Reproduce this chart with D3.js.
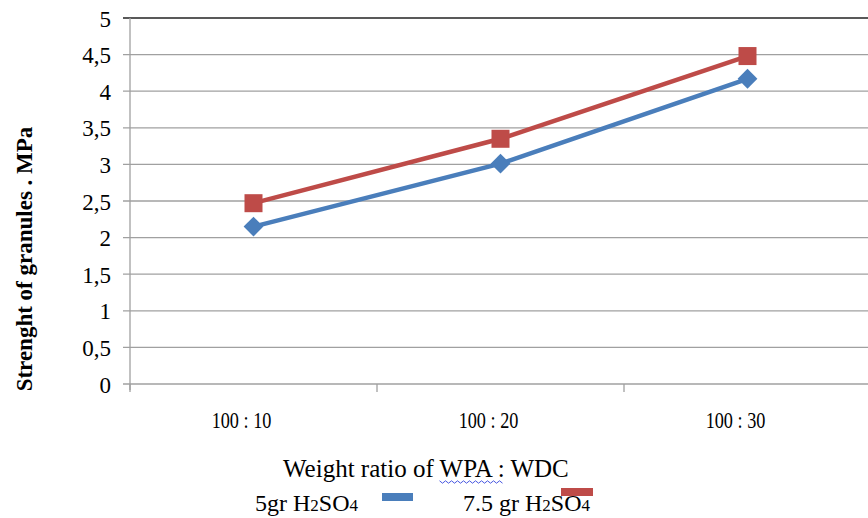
<!DOCTYPE html>
<html>
<head>
<meta charset="utf-8">
<script src="https://cdn.jsdelivr.net/npm/d3@7"></script>
<style>
  body { margin: 0; background: #fff; }
</style>
</head>
<body>
<svg id="chart" width="868" height="518"></svg>
<script>
// chart data
const categories = ["100 : 10", "100 : 20", "100 : 30"];
const series5gr = [2.15, 3.01, 4.17];
const series75gr = [2.47, 3.35, 4.48];
const yTicks = [0, 0.5, 1, 1.5, 2, 2.5, 3, 3.5, 4, 4.5, 5];

const serif = "'Liberation Serif', 'Times New Roman', serif";
const svg = d3.select("#chart").attr("font-family", serif);
const plotLeft = 130, plotRight = 871, plotTop = 18, plotBottom = 384;

const x = d3.scaleBand().domain(categories).range([plotLeft, plotRight]);
const y = d3.scaleLinear().domain([0, 5]).range([plotBottom, plotTop]);
const fmt = v => String(v).replace(".", ",");
const cx = c => x(c) + x.bandwidth() / 2;

// gridlines
svg.append("g").selectAll("line").data(yTicks).enter()
    .append("line")
    .attr("x1", plotLeft - 7).attr("x2", 868)
    .attr("y1", d => y(d)).attr("y2", d => y(d))
    .attr("stroke", d => d === 5 ? "#222" : "#a0a0a0")
    .attr("stroke-width", d => d === 5 ? 1.5 : 1.3);

// y axis line
svg.append("line")
    .attr("x1", plotLeft).attr("x2", plotLeft)
    .attr("y1", plotTop).attr("y2", plotBottom + 6)
    .attr("stroke", "#a0a0a0").attr("stroke-width", 1.3);

// x axis ticks between categories
const bounds = [plotLeft, plotLeft + x.bandwidth(), plotLeft + 2 * x.bandwidth()];
svg.append("g").selectAll("line").data(bounds).enter()
    .append("line")
    .attr("x1", d => d).attr("x2", d => d)
    .attr("y1", plotBottom).attr("y2", plotBottom + 8)
    .attr("stroke", "#a0a0a0").attr("stroke-width", 1.3);

// y tick labels
svg.append("g").selectAll("text").data(yTicks).enter()
    .append("text")
    .attr("x", plotLeft - 19)
    .attr("y", d => y(d) + 8.5)
    .attr("text-anchor", "end")
    .attr("font-size", 23)
    .text(fmt);

// x tick labels (condensed like the original)
svg.append("g").selectAll("text").data(categories).enter()
    .append("text")
    .attr("x", 0)
    .attr("y", 0)
    .attr("text-anchor", "middle")
    .attr("font-size", 24)
    .attr("transform", d => `translate(${cx(d) - 12},428) scale(0.76,1)`)
    .text(d => d);

// lines and markers
const line = d3.line()
    .x((d, i) => cx(categories[i]))
    .y(d => y(d));

svg.append("path").datum(series5gr)
    .attr("d", line).attr("fill", "none")
    .attr("stroke", "#4a7ebb").attr("stroke-width", 4.5);
svg.append("path").datum(series75gr)
    .attr("d", line).attr("fill", "none")
    .attr("stroke", "#be4b48").attr("stroke-width", 4.5);

svg.append("g").selectAll("path").data(series5gr).enter()
    .append("path")
    .attr("d", d3.symbol(d3.symbolDiamond2, 250))
    .attr("transform", (d, i) => `translate(${cx(categories[i])},${y(d)})`)
    .attr("fill", "#4a7ebb");
svg.append("g").selectAll("rect").data(series75gr).enter()
    .append("rect")
    .attr("x", (d, i) => cx(categories[i]) - 9)
    .attr("y", d => y(d) - 9)
    .attr("width", 18).attr("height", 18)
    .attr("fill", "#be4b48");

// y axis title
svg.append("text")
    .attr("transform", "translate(32,259) rotate(-90)")
    .attr("text-anchor", "middle")
    .attr("font-size", 23).attr("font-weight", "bold")
    .text("Strenght of granules . MPa");

// x axis title
const xt = svg.append("text")
    .attr("x", 283).attr("y", 477)
    .attr("font-size", 25);
xt.append("tspan").text("Weight ratio of ");
xt.append("tspan").attr("id", "wpa").text("WPA :");
xt.append("tspan").text(" WDC");

// wavy underline under WPA :
const wb = document.getElementById("wpa").getBBox();
const wave = d3.range(0, Math.floor(wb.width / 3) + 1).map(i => [wb.x + i * 3, 482 + (i % 2 ? 1.2 : -1.2)]);
svg.append("path")
    .attr("d", d3.line()(wave))
    .attr("fill", "none").attr("stroke", "#3344dd").attr("stroke-width", 0.9);

// legend
const leg1 = svg.append("text").attr("x", 255).attr("y", 511).attr("font-size", 24);
leg1.append("tspan").text("5gr H");
leg1.append("tspan").attr("font-size", 17).text("2");
leg1.append("tspan").text("SO");
leg1.append("tspan").attr("font-size", 17).text("4");
svg.append("rect").attr("x", 382).attr("y", 493).attr("width", 31).attr("height", 8).attr("fill", "#4a7ebb");

const leg2 = svg.append("text").attr("x", 463).attr("y", 511).attr("font-size", 24);
leg2.append("tspan").text("7.5 gr H");
leg2.append("tspan").attr("font-size", 17).text("2");
leg2.append("tspan").text("SO");
leg2.append("tspan").attr("font-size", 17).text("4");
svg.append("rect").attr("x", 561).attr("y", 488).attr("width", 32).attr("height", 8).attr("fill", "#be4b48");
</script>
</body>
</html>
